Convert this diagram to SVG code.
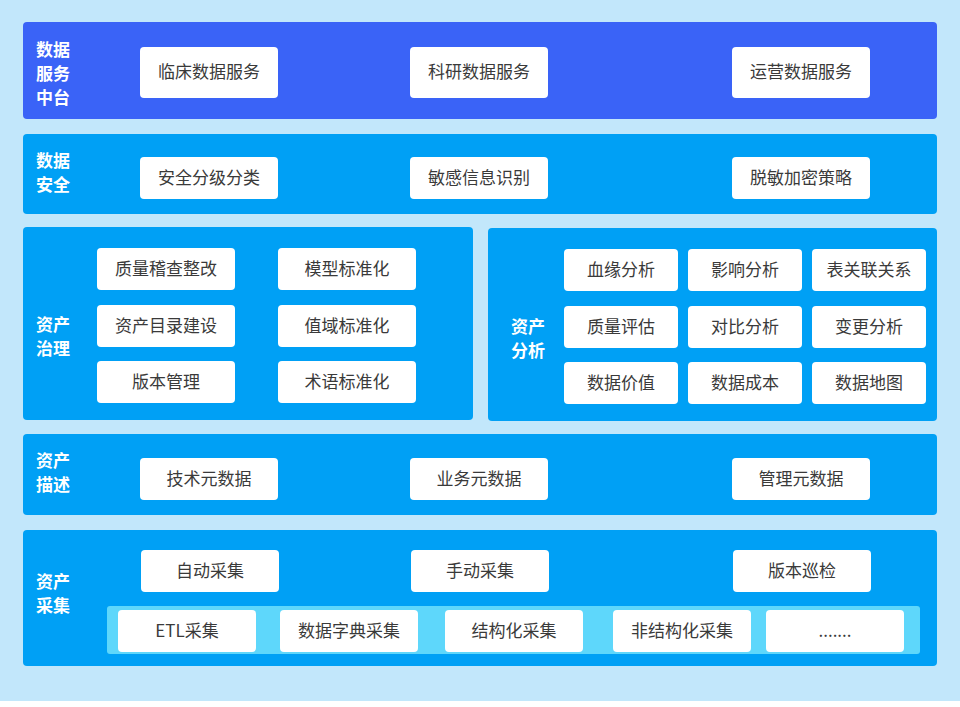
<svg xmlns="http://www.w3.org/2000/svg" width="960" height="707" viewBox="0 0 960 707">
<style>
.p{fill:#00a0f5}
.b{fill:#fff}
.t{font-family:"Noto Sans CJK SC","Liberation Sans",sans-serif;font-size:17px;fill:#3a3a3a;text-anchor:middle}
.l{font-family:"Noto Sans CJK SC","Liberation Sans",sans-serif;font-size:17px;font-weight:bold;fill:#fff}
</style>
<rect width="960" height="707" fill="#fff"/>
<rect width="960" height="701" fill="#c2e7fb"/>
<g id="service">
<rect x="23" y="22" width="914" height="97" rx="4" fill="#3a63f7"/>
<text class="l" x="36" y="56">数据</text><text class="l" x="36" y="80">服务</text><text class="l" x="36" y="104">中台</text>
<rect class="b" x="140" y="47" width="138" height="51" rx="4"/><text class="t" x="209" y="78">临床数据服务</text>
<rect class="b" x="410" y="47" width="138" height="51" rx="4"/><text class="t" x="479" y="78">科研数据服务</text>
<rect class="b" x="732" y="47" width="138" height="51" rx="4"/><text class="t" x="801" y="78">运营数据服务</text>
</g>
<g id="security">
<rect class="p" x="23" y="134" width="914" height="80" rx="4"/>
<text class="l" x="36" y="167">数据</text><text class="l" x="36" y="191">安全</text>
<rect class="b" x="140" y="157" width="138" height="42" rx="4"/><text class="t" x="209" y="184">安全分级分类</text>
<rect class="b" x="410" y="157" width="138" height="42" rx="4"/><text class="t" x="479" y="184">敏感信息识别</text>
<rect class="b" x="732" y="157" width="138" height="42" rx="4"/><text class="t" x="801" y="184">脱敏加密策略</text>
</g>
<g id="governance">
<rect class="p" x="23" y="227" width="450" height="193" rx="4"/>
<text class="l" x="36" y="331">资产</text><text class="l" x="36" y="355">治理</text>
<rect class="b" x="97" y="248" width="138" height="42" rx="4"/><text class="t" x="166" y="275">质量稽查整改</text>
<rect class="b" x="278" y="248" width="138" height="42" rx="4"/><text class="t" x="347" y="275">模型标准化</text>
<rect class="b" x="97" y="305" width="138" height="42" rx="4"/><text class="t" x="166" y="332">资产目录建设</text>
<rect class="b" x="278" y="305" width="138" height="42" rx="4"/><text class="t" x="347" y="332">值域标准化</text>
<rect class="b" x="97" y="361" width="138" height="42" rx="4"/><text class="t" x="166" y="388">版本管理</text>
<rect class="b" x="278" y="361" width="138" height="42" rx="4"/><text class="t" x="347" y="388">术语标准化</text>
</g>
<g id="analysis">
<rect class="p" x="488" y="228" width="449" height="193" rx="4"/>
<text class="l" x="511" y="333">资产</text><text class="l" x="511" y="357">分析</text>
<rect class="b" x="564" y="249" width="114" height="42" rx="4"/><text class="t" x="621" y="276">血缘分析</text>
<rect class="b" x="688" y="249" width="114" height="42" rx="4"/><text class="t" x="745" y="276">影响分析</text>
<rect class="b" x="812" y="249" width="114" height="42" rx="4"/><text class="t" x="869" y="276">表关联关系</text>
<rect class="b" x="564" y="306" width="114" height="42" rx="4"/><text class="t" x="621" y="333">质量评估</text>
<rect class="b" x="688" y="306" width="114" height="42" rx="4"/><text class="t" x="745" y="333">对比分析</text>
<rect class="b" x="812" y="306" width="114" height="42" rx="4"/><text class="t" x="869" y="333">变更分析</text>
<rect class="b" x="564" y="362" width="114" height="42" rx="4"/><text class="t" x="621" y="389">数据价值</text>
<rect class="b" x="688" y="362" width="114" height="42" rx="4"/><text class="t" x="745" y="389">数据成本</text>
<rect class="b" x="812" y="362" width="114" height="42" rx="4"/><text class="t" x="869" y="389">数据地图</text>
</g>
<g id="description">
<rect class="p" x="23" y="434" width="914" height="81" rx="4"/>
<text class="l" x="36" y="467">资产</text><text class="l" x="36" y="491">描述</text>
<rect class="b" x="140" y="458" width="138" height="42" rx="4"/><text class="t" x="209" y="485">技术元数据</text>
<rect class="b" x="410" y="458" width="138" height="42" rx="4"/><text class="t" x="479" y="485">业务元数据</text>
<rect class="b" x="732" y="458" width="138" height="42" rx="4"/><text class="t" x="801" y="485">管理元数据</text>
</g>
<g id="collection">
<rect class="p" x="23" y="530" width="914" height="136" rx="4"/>
<text class="l" x="36" y="588">资产</text><text class="l" x="36" y="612">采集</text>
<rect class="b" x="141" y="550" width="138" height="42" rx="4"/><text class="t" x="210" y="577">自动采集</text>
<rect class="b" x="411" y="550" width="138" height="42" rx="4"/><text class="t" x="480" y="577">手动采集</text>
<rect class="b" x="733" y="550" width="138" height="42" rx="4"/><text class="t" x="802" y="577">版本巡检</text>
<rect x="107" y="606" width="813" height="48" rx="3" fill="#5ed7fb"/>
<rect class="b" x="118" y="610" width="138" height="42" rx="4"/><text class="t" x="187" y="637">ETL采集</text>
<rect class="b" x="280" y="610" width="138" height="42" rx="4"/><text class="t" x="349" y="637">数据字典采集</text>
<rect class="b" x="445" y="610" width="138" height="42" rx="4"/><text class="t" x="514" y="637">结构化采集</text>
<rect class="b" x="613" y="610" width="138" height="42" rx="4"/><text class="t" x="682" y="637">非结构化采集</text>
<rect class="b" x="766" y="610" width="138" height="42" rx="4"/><text class="t" x="835" y="637">.......</text>
</g>
<g id="connectors"/>
</svg>
